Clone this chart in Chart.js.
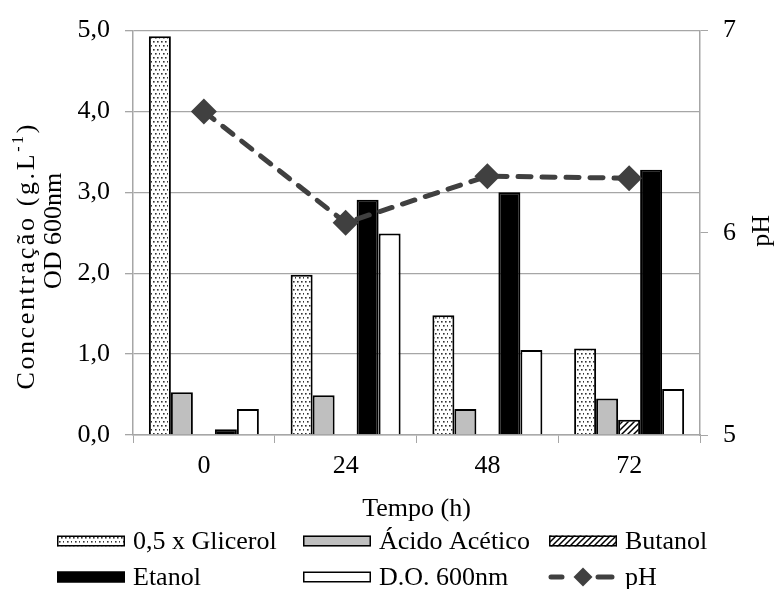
<!DOCTYPE html>
<html>
<head>
<meta charset="utf-8">
<script src="https://cdn.jsdelivr.net/npm/chart.js@4"></script>
<style>
  html, body { margin: 0; padding: 0; background: #fff; }
  #wrap { width: 776px; height: 589px; }
</style>
</head>
<body>
<div id="wrap"><canvas id="c" width="776" height="589"></canvas></div>
<script>
// Sampling times (h)
const times = ['0', '24', '48', '72'];
// Concentrations (g/L) and optical density
const glicerol = [4.93, 1.98, 1.48, 1.07];   // 0,5 x Glicerol
const acetico  = [0.53, 0.49, 0.32, 0.45];
const butanol  = [0, 0, 0, 0.19];
const etanol   = [0.07, 2.91, 3.00, 3.28];
const od600    = [0.32, 2.49, 1.05, 0.57];
// pH (right axis)
const ph       = [6.60, 6.05, 6.28, 6.27];
// Axis ranges
const concTicks = [0, 1, 2, 3, 4, 5];
const phTicks   = [5, 6, 7];

const FONT = '"Liberation Serif", "Times New Roman", serif';
const GRID = '#a6a6a6';
const PH_COLOR = '#404040';

function dotPattern() {
  const c = document.createElement('canvas');
  c.width = 8; c.height = 8;
  const g = c.getContext('2d');
  g.fillStyle = '#fff'; g.fillRect(0, 0, 8, 8);
  g.fillStyle = '#333';
  [[1, 1], [5, 1], [3, 5], [7, 5]].forEach(([x, y]) => g.fillRect(x, y, 1.6, 1.6));
  return g.createPattern(c, 'repeat');
}
function hatchPattern() {
  const c = document.createElement('canvas');
  c.width = 6; c.height = 6;
  const g = c.getContext('2d');
  g.fillStyle = '#fff'; g.fillRect(0, 0, 6, 6);
  g.strokeStyle = '#000'; g.lineWidth = 1.5;
  g.beginPath();
  g.moveTo(-1, 7); g.lineTo(7, -1);
  g.moveTo(-4, 4); g.lineTo(4, -4);
  g.moveTo(2, 10); g.lineTo(10, 2);
  g.stroke();
  return g.createPattern(c, 'repeat');
}
const dots = dotPattern();
const hatch = hatchPattern();

const barBase = {
  type: 'bar',
  yAxisID: 'y',
  borderColor: '#000',
  borderWidth: 2,
  borderSkipped: 'start',
  categoryPercentage: 0.776,
  barPercentage: 1.0,
  order: 1
};

// Titles, superscript and the two-row legend
const decorations = {
  id: 'decorations',
  afterDraw(chart) {
    const ctx = chart.ctx;
    const area = chart.chartArea;
    ctx.save();
    ctx.fillStyle = '#000';
    ctx.textBaseline = 'middle';
    const big = '26px ' + FONT, small = '16px ' + FONT;

    // left axis title (two lines, rotated)
    const cy = (area.top + area.bottom) / 2;
    ctx.save();
    ctx.translate(27, cy + 23);
    ctx.rotate(-Math.PI / 2);
    ctx.letterSpacing = '2.6px';
    ctx.font = big;
    const p1 = 'Concentração (g.L', p3 = ')';
    const w1 = ctx.measureText(p1).width, w3 = ctx.measureText(p3).width;
    ctx.font = small;
    const sup = '-1';
    const w2 = ctx.measureText(sup).width;
    let x = -(w1 + w2 + w3) / 2;
    ctx.font = big; ctx.textAlign = 'left';
    ctx.fillText(p1, x, 0); x += w1;
    ctx.font = small; ctx.fillText(sup, x, -8); x += w2;
    ctx.font = big; ctx.fillText(p3, x, 0);
    ctx.letterSpacing = '0px';
    ctx.restore();

    ctx.save();
    ctx.translate(54, cy - 2);
    ctx.rotate(-Math.PI / 2);
    ctx.font = big; ctx.textAlign = 'center';
    ctx.fillText('OD 600nm', 0, 0);
    ctx.restore();

    // right axis title
    ctx.save();
    ctx.translate(762, cy - 2);
    ctx.rotate(-Math.PI / 2);
    ctx.font = big; ctx.textAlign = 'center';
    ctx.fillText('pH', 0, 0);
    ctx.restore();

    // x axis title
    ctx.font = big; ctx.textAlign = 'center';
    ctx.fillText('Tempo (h)', (area.left + area.right) / 2, 509);

    // legend
    const ds = chart.data.datasets;
    const cols = [57, 303, 549];
    const rows = [541, 577];
    const sw = 68, sh = 11;
    const entries = [
      [ds[1], 0, 0], [ds[2], 1, 0], [ds[3], 2, 0],
      [ds[4], 0, 1], [ds[5], 1, 1], [ds[0], 2, 1]
    ];
    entries.forEach(([d, ci, ri]) => {
      const lx = cols[ci], ly = rows[ri];
      if (d.type === 'line') {
        ctx.strokeStyle = d.borderColor;
        ctx.lineWidth = 5; ctx.lineCap = 'round';
        ctx.beginPath();
        ctx.moveTo(lx + 2, ly); ctx.lineTo(lx + 13, ly);
        ctx.moveTo(lx + 49, ly); ctx.lineTo(lx + 63, ly);
        ctx.stroke();
        ctx.fillStyle = d.pointBackgroundColor;
        ctx.beginPath();
        ctx.moveTo(lx + 34, ly - 9.5); ctx.lineTo(lx + 43.5, ly);
        ctx.lineTo(lx + 34, ly + 9.5); ctx.lineTo(lx + 24.5, ly);
        ctx.closePath(); ctx.fill();
      } else {
        ctx.fillStyle = d.backgroundColor;
        ctx.fillRect(lx, ly - sh / 2, sw, sh);
        ctx.strokeStyle = '#000'; ctx.lineWidth = 1.5;
        ctx.strokeRect(lx + 0.75, ly - sh / 2 + 0.75, sw - 1.5, sh - 1.5);
      }
      ctx.fillStyle = '#000';
      ctx.font = big; ctx.textAlign = 'left';
      ctx.fillText(d.label, lx + sw + 8, ly + 1);
    });
    ctx.restore();
  }
};

new Chart(document.getElementById('c'), {
  data: {
    labels: times,
    datasets: [
      {
        type: 'line', label: 'pH', data: ph, yAxisID: 'y1',
        borderColor: PH_COLOR, borderWidth: 5, borderDash: [13, 11],
        borderCapStyle: 'round', pointStyle: 'rectRot', pointRadius: 13,
        pointBackgroundColor: PH_COLOR, pointBorderColor: PH_COLOR, pointBorderWidth: 0,
        tension: 0, fill: false, order: 0
      },
      Object.assign({}, barBase, { label: '0,5 x Glicerol', data: glicerol, backgroundColor: dots }),
      Object.assign({}, barBase, { label: 'Ácido Acético', data: acetico, backgroundColor: '#bfbfbf' }),
      Object.assign({}, barBase, { label: 'Butanol', data: butanol, backgroundColor: hatch }),
      Object.assign({}, barBase, { label: 'Etanol', data: etanol, backgroundColor: '#000' }),
      Object.assign({}, barBase, { label: 'D.O. 600nm', data: od600, backgroundColor: '#fff' })
    ]
  },
  options: {
    responsive: false,
    animation: false,
    devicePixelRatio: 1,
    layout: { padding: { top: 26, left: 0, right: 0, bottom: 0 } },
    plugins: { legend: { display: false }, tooltip: { enabled: false } },
    scales: {
      x: {
        type: 'category',
        offset: true,
        grid: { offset: true, drawOnChartArea: false, color: GRID, tickLength: 8 },
        border: { color: GRID, width: 1.5 },
        ticks: { color: '#000', padding: 8, font: { family: FONT, size: 26 } },
        afterFit(s) { s.height = 154; }
      },
      y: {
        position: 'left',
        min: concTicks[0], max: concTicks[concTicks.length - 1],
        afterBuildTicks(s) { s.ticks = concTicks.map(v => ({ value: v })); },
        grid: { color: GRID, lineWidth: 1.3, tickLength: 8 },
        border: { color: GRID, width: 1.5 },
        ticks: {
          color: '#000', padding: 15, font: { family: FONT, size: 26 },
          callback: v => v.toFixed(1).replace('.', ',')
        },
        afterFit(s) { s.width = 133; }
      },
      y1: {
        position: 'right',
        min: phTicks[0], max: phTicks[phTicks.length - 1],
        afterBuildTicks(s) { s.ticks = phTicks.map(v => ({ value: v })); },
        grid: { drawOnChartArea: false, color: GRID, tickLength: 8 },
        border: { color: GRID, width: 1.5 },
        ticks: { color: '#000', padding: 15, font: { family: FONT, size: 26 } },
        afterFit(s) { s.width = 76; }
      }
    }
  },
  plugins: [decorations]
});
</script>
</body>
</html>
